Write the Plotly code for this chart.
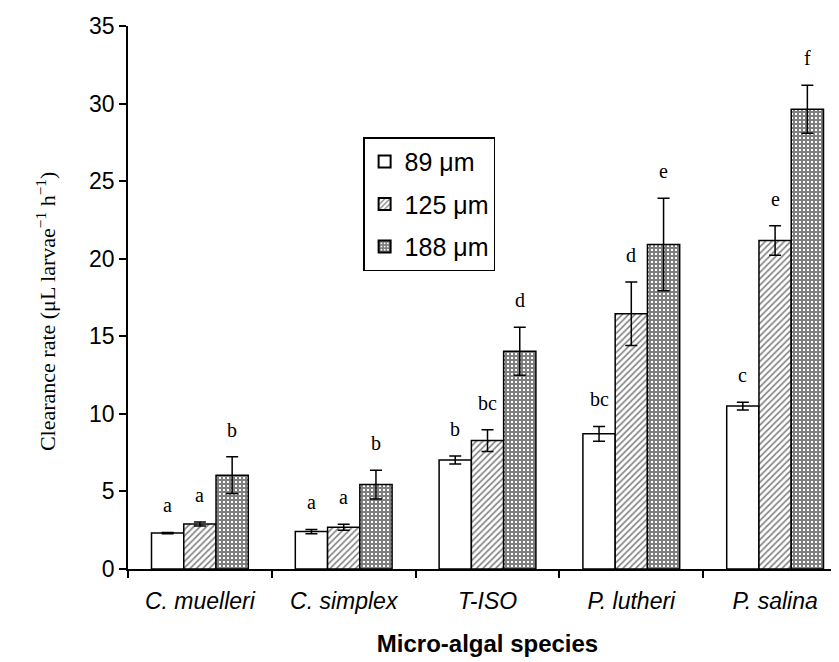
import plotly.graph_objects as go

species = ["<i>C. muelleri</i>", "<i>C. simplex</i>", "<i>T-ISO</i>", "<i>P. lutheri</i>", "<i>P. salina</i>"]
size_labels = ["89 μm", "125 μm", "188 μm"]

rate_89 = [2.32, 2.41, 7.03, 8.71, 10.5]
err_89 = [0.04, 0.14, 0.26, 0.48, 0.25]
let_89 = ["a", "a", "b", "bc", "c"]

rate_125 = [2.9, 2.69, 8.28, 16.45, 21.18]
err_125 = [0.13, 0.2, 0.7, 2.05, 0.95]
let_125 = ["a", "a", "bc", "d", "e"]

rate_188 = [6.05, 5.44, 14.04, 20.92, 29.63]
err_188 = [1.18, 0.92, 1.55, 2.98, 1.55]
let_188 = ["b", "b", "d", "e", "f"]

series = [
    (size_labels[0], rate_89, err_89, let_89, ""),
    (size_labels[1], rate_125, err_125, let_125, "/"),
    (size_labels[2], rate_188, err_188, let_188, "+"),
]

fig = go.Figure()
for i, (name, vals, errs, lets, shape) in enumerate(series):
    if shape == "/":
        pattern = dict(shape=shape, fgcolor="black", bgcolor="white", size=4.5, solidity=0.35)
    elif shape == "+":
        pattern = dict(shape=shape, fgcolor="black", bgcolor="white", size=4, solidity=0.75)
    else:
        pattern = dict(shape="")
    fig.add_trace(go.Bar(
        x=species, y=vals, name=name, legendgroup=name,
        marker=dict(color="white", line=dict(color="black", width=1.5), pattern=pattern),
        error_y=dict(type="data", array=errs, color="black", thickness=1.5, width=6),
        offsetgroup=str(i),
    ))

# significance letters
annos = []
offsets = [-1, 0, 1]
for i, (name, vals, errs, lets, shape) in enumerate(series):
    for j, sp in enumerate(species):
        annos.append(dict(
            x=j + offsets[i] * 0.224, xref="x", y=vals[j] + errs[j], yref="y",
            text=lets[j], showarrow=False, yanchor="middle", yshift=27,
            font=dict(family="Liberation Serif", size=20, color="black"),
        ))

annos.append(dict(
    x=-0.114, xref="paper", y=0.475, yref="paper", textangle=-90,
    text="Clearance rate (μL larvae<sup>−1</sup> h<sup>−1</sup>)", showarrow=False,
    font=dict(family="Liberation Serif", size=22, color="black"),
    xanchor="center", yanchor="middle",
))

fig.update_layout(
    width=839, height=662,
    margin=dict(l=120, r=0, t=18, b=101),
    paper_bgcolor="white", plot_bgcolor="white",
    barmode="group", bargap=0.327, bargroupgap=0,
    showlegend=True,
    legend=dict(x=0.327, y=0.795, xanchor="left", yanchor="top",
                bordercolor="black", borderwidth=1.5, bgcolor="white",
                font=dict(family="Liberation Sans", size=25, color="black"),
                itemsizing="constant", traceorder="grouped", tracegroupgap=7),
    annotations=annos,
    font=dict(family="Liberation Sans", color="black"),
)
fig.update_xaxes(
    type="category", range=[-0.5, 4.5],
    showline=True, linecolor="black", linewidth=1.5,
    ticks="outside", tickson="boundaries", ticklen=7, tickcolor="black", tickwidth=1.5,
    ticklabelstandoff=11,
    tickfont=dict(family="Liberation Sans", size=23, color="black"),
    title=dict(text="<b>Micro-algal species</b>", standoff=22,
               font=dict(family="Liberation Sans", size=24, color="black")),
    showgrid=False,
)
fig.update_yaxes(
    range=[0, 35], dtick=5, tick0=0,
    showline=True, linecolor="black", linewidth=1.5,
    ticks="outside", ticklen=7, tickcolor="black", tickwidth=1.5,
    tickfont=dict(family="Liberation Sans", size=23, color="black"),
    showgrid=False, zeroline=False,
)

fig.write_html("out.html")
